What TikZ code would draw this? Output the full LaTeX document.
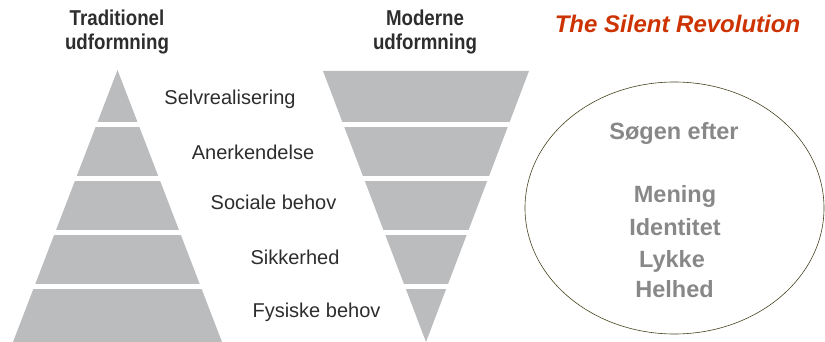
\documentclass[tikz,border=0pt]{standalone}
\usepackage{graphicx}
\usepackage{fontspec}
\setmainfont{Liberation Sans}
\usetikzlibrary{shapes.geometric}
\definecolor{pyr}{RGB}{187,188,190}
\definecolor{lbl}{RGB}{45,45,45}
\definecolor{ttl}{RGB}{204,51,0}
\definecolor{ell}{RGB}{70,66,30}
\definecolor{elltxt}{RGB}{136,136,136}
\begin{document}
\begin{tikzpicture}[x=1pt,y=-1pt,
  hdr/.style={font=\fontsize{21.5}{24}\selectfont\bfseries, text=lbl, anchor=base, inner sep=0pt},
  lab/.style={font=\fontsize{20}{24}\selectfont, text=lbl, anchor=base, inner sep=0pt},
  ttlstyle/.style={font=\fontsize{24}{28}\selectfont\bfseries\itshape, text=ttl, anchor=base, inner sep=0pt},
  etxt/.style={font=\fontsize{23.5}{28}\selectfont\bfseries, text=elltxt, anchor=base, inner sep=0pt},
  gapstrip/.style={fill=white}]
\useasboundingbox (0,0) rectangle (825,342);
% pyramids
\fill[pyr] (117.5,70) -- (222,342) -- (13,342) -- cycle;
\fill[pyr] (323,71) -- (529,71) -- (426,342) -- cycle;
\fill[gapstrip] (0,122.5) rectangle (545,127.5);
\fill[gapstrip] (0,176.5) rectangle (545,181.5);
\fill[gapstrip] (0,230) rectangle (545,235);
\fill[gapstrip] (0,284) rectangle (545,289);
% headers
\node[hdr] (trad1) at (117,26) {\scalebox{0.87}[1]{Traditionel}};
\node[hdr] (trad2) at (117,50) {\scalebox{0.87}[1]{udformning}};
\node[hdr] (mod1) at (425,26) {\scalebox{0.87}[1]{Moderne}};
\node[hdr] (mod2) at (425,50) {\scalebox{0.87}[1]{udformning}};
% labels
\node[lab] (l1) at (230,105) {Selvrealisering};
\node[lab] (l2) at (253,160) {Anerkendelse};
\node[lab] (l3) at (273.5,209) {Sociale behov};
\node[lab] (l4) at (295,264) {Sikkerhed};
\node[lab] (l5) at (316.5,317) {Fysiske behov};
% title
\node[ttlstyle] (title) at (677.5,33) {The Silent Revolution};
% ellipse
\node[draw=ell, ellipse, minimum width=299pt, minimum height=252pt, inner sep=0pt, line width=0.6pt] (circ) at (674.5,208) {};
\node[etxt] (e1) at (674,140) {Søgen efter};
\node[etxt] (e2) at (675,203) {Mening};
\node[etxt] (e3) at (675,235) {Identitet};
\node[etxt] (e4) at (672,267) {Lykke};
\node[etxt] (e5) at (674.5,297) {Helhed};
\end{tikzpicture}
\end{document}
